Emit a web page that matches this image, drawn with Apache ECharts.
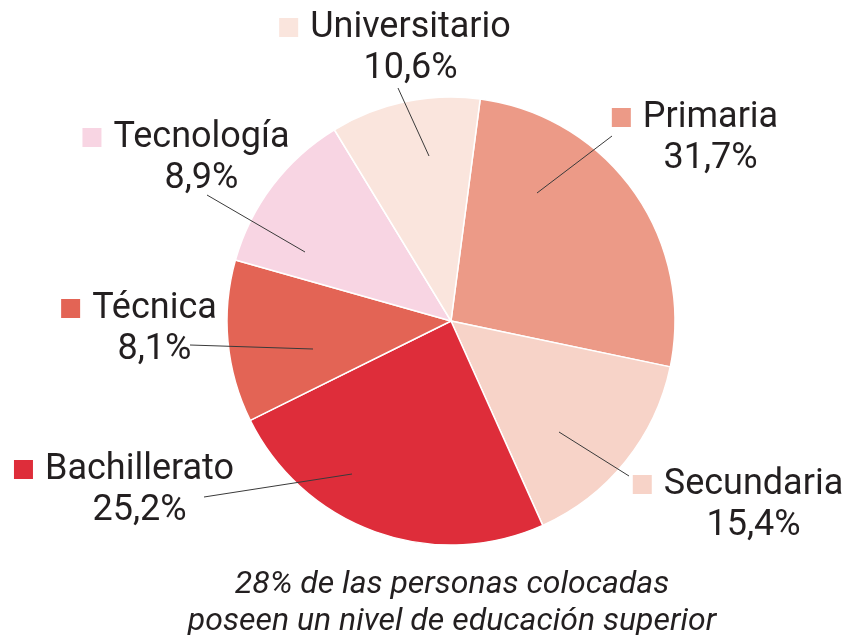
<!DOCTYPE html>
<html>
<head>
<meta charset="utf-8">
<script src="https://cdn.jsdelivr.net/npm/echarts@6/dist/echarts.min.js"></script>
<style>
  html, body { margin: 0; padding: 0; background: #fff; }
  #chart { width: 849px; height: 635px; }
</style>
</head>
<body>
<div id="chart"></div>
<script>
  // categorias en orden horario desde arriba
  const categories = ['Primaria', 'Secundaria', 'Bachillerato', 'Técnica', 'Tecnología', 'Universitario'];
  // tamaño de cada sector tal como está dibujado (%)
  const sliceShares = [26.2, 15.0, 24.4, 11.7, 11.9, 10.8];
  // porcentajes impresos en las etiquetas
  const percentLabels = ['31,7%', '15,4%', '25,2%', '8,1%', '8,9%', '10,6%'];
  const colors = ['#EC9A87', '#F7D3C8', '#DE2D3A', '#E36455', '#F8D5E3', '#FAE5DD'];

  // posicion de etiquetas y lineas guia (px)
  const labelPos = [[695, 138], [738, 505], [124, 490], [139, 329], [186, 158], [395, 48]];
  const guideLines = [
    [[537, 193], [612, 136]],
    [[559, 432], [629, 476]],
    [[352, 474], [204, 497]],
    [[313, 349], [190, 345]],
    [[305, 252], [207, 195]],
    [[429, 156], [398, 88]]
  ];

  const font = 'Roboto';
  const txt = '#231f20';

  let myChart = echarts.init(document.getElementById('chart'));

  myChart.setOption({
    animation: false,
    title: {
      text: '28% de las personas colocadas\nposeen un nivel de educación superior',
      left: 447,
      top: 561,
      textAlign: 'center',
      textStyle: {
        fontFamily: font,
        fontStyle: 'italic',
        fontWeight: 'normal',
        fontSize: 32,
        lineHeight: 37,
        color: txt
      }
    },
    graphic: guideLines.map((pts) => ({
      type: 'line',
      z: 100,
      shape: { x1: pts[0][0], y1: pts[0][1], x2: pts[1][0], y2: pts[1][1] },
      style: { stroke: '#3a3a3a', lineWidth: 1 }
    })),
    series: [
      {
        type: 'pie',
        center: [451, 321],
        radius: 224,
        startAngle: 82.5,
        clockwise: true,
        itemStyle: {
          borderColor: '#fff',
          borderWidth: 1.5
        },
        label: {
          show: true,
          position: 'outside',
          overflow: 'none',
          formatter: (p) => '{sq|}{g|}{nm|' + p.name + '}\n{sp|}{pc|' + percentLabels[p.dataIndex] + '}',
          align: 'center',
          verticalAlign: 'middle'
        },
        labelLine: { show: false },
        labelLayout: (params) => {
          const i = params.dataIndex;
          return {
            x: labelPos[i][0],
            y: labelPos[i][1],
            align: 'center',
            verticalAlign: 'middle'
          };
        },
        data: categories.map((name, i) => ({
          name: name,
          value: sliceShares[i],
          itemStyle: { color: colors[i] },
          label: {
            rich: {
              sq: { width: 19, height: 19, backgroundColor: colors[i] },
              g: { width: 12 },
              sp: { width: 31 },
              nm: { fontFamily: font, fontSize: 36, fontWeight: 'normal', color: txt, lineHeight: 41 },
              pc: { fontFamily: font, fontSize: 36, fontWeight: 'normal', color: txt, lineHeight: 41 }
            }
          }
        }))
      }
    ]
  });
</script>
</body>
</html>
